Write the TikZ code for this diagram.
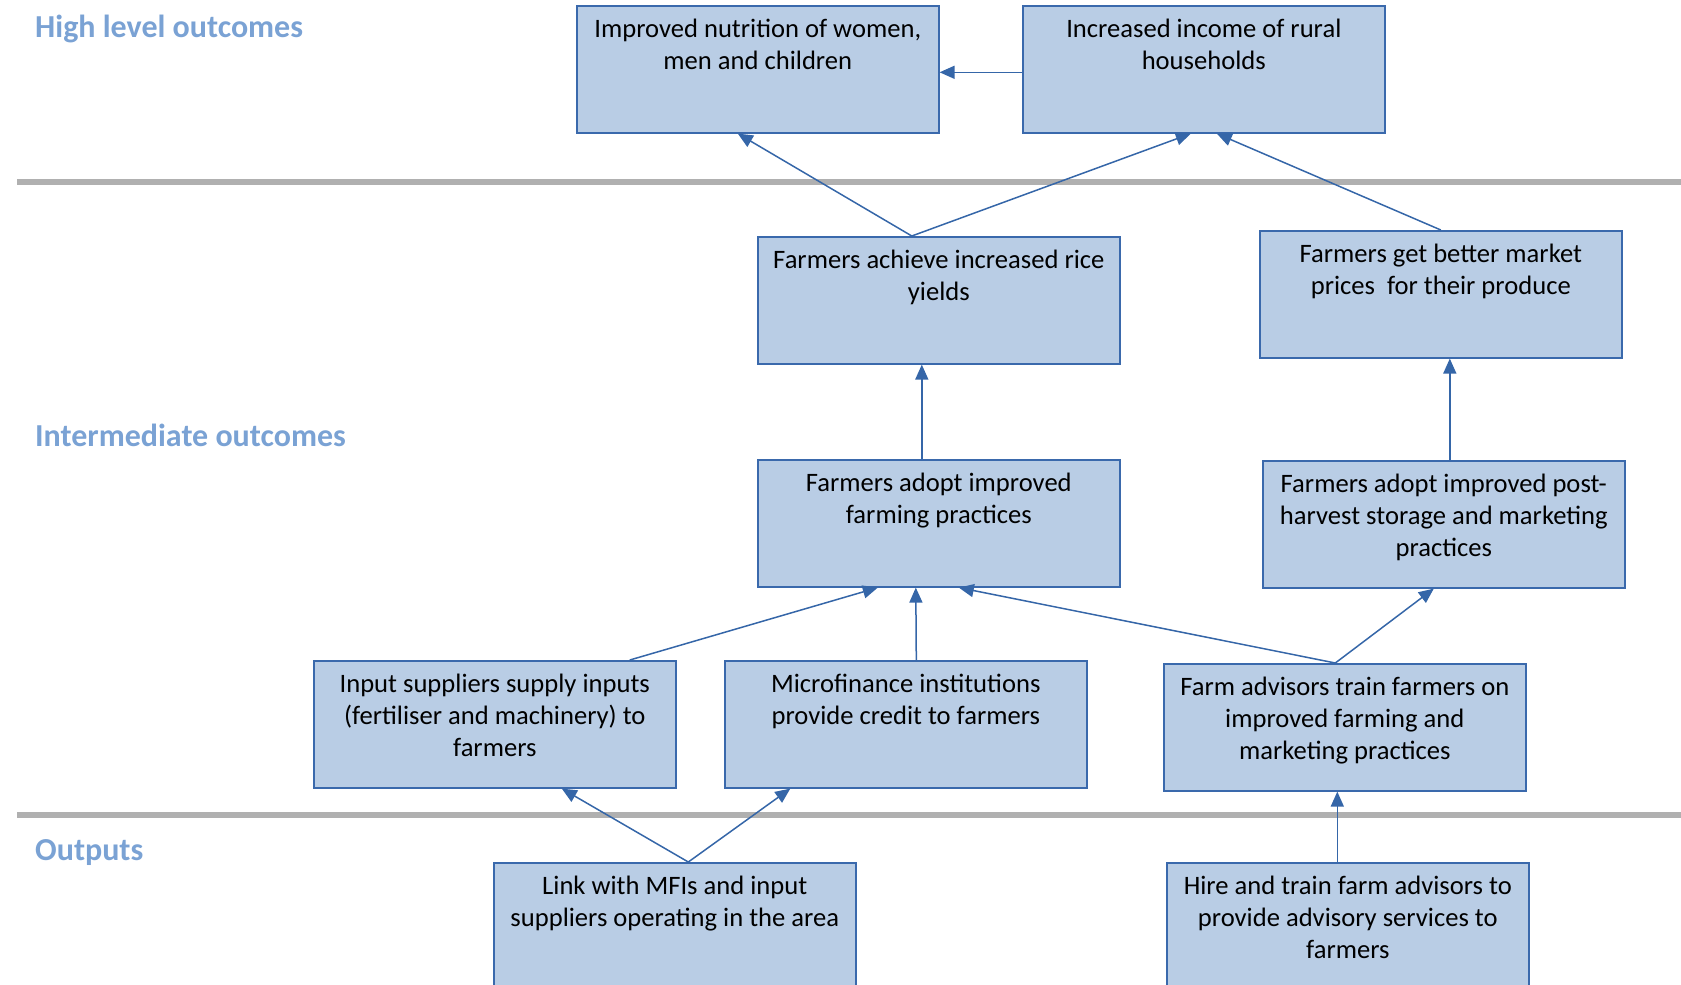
\documentclass[tikz,border=0pt]{standalone}
\usepackage{fontspec}
\setmainfont{Carlito}
\usetikzlibrary{arrows.meta}
\definecolor{boxfill}{HTML}{B9CDE5}
\definecolor{boxline}{HTML}{3A69AC}
\definecolor{arrowcol}{HTML}{3566A8}
\definecolor{headcol}{HTML}{7AA2D4}
\definecolor{sepcol}{HTML}{B0B0B0}
\newcommand\bt[2][127]{\parbox[c][#1pt][t]{356pt}{\centering\vspace*{9pt}\strut #2\par}}
\tikzset{
  boxnode/.style={draw=boxline, fill=boxfill, line width=1.6pt, inner sep=0pt,
    minimum width=362pt, anchor=north west, font=\fontsize{26.6}{32}\selectfont},
  heading/.style={anchor=west, inner sep=0pt, text=headcol, font=\fontsize{32}{38}\selectfont\bfseries},
  link/.style={draw=arrowcol, line width=1.5pt, -{Triangle[length=15pt,width=13pt]}},
  sepline/.style={draw=sepcol, line width=6pt}
}
\begin{document}
\begin{tikzpicture}[x=1pt,y=-1pt]
\useasboundingbox (0,0) rectangle (1681,985);
% separators
\coordinate (s1a) at (17,182);
\coordinate (s1b) at (1681,182);
\coordinate (s2a) at (17,815);
\coordinate (s2b) at (1681,815);
\draw[sepline] (s1a) -- (s1b);
\draw[sepline] (s2a) -- (s2b);
% headings
\node[heading] (h1) at (35,29) {High level outcomes};
\node[heading] (h2) at (35,435) {Intermediate outcomes};
\node[heading] (h3) at (35,853) {Outputs};
% boxes
\node[boxnode] (nut) at (576,5) {\bt{Improved nutrition of women,\\ men and children}};
\node[boxnode] (inc) at (1022,5) {\bt{Increased income of rural\\ households}};
\node[boxnode] (rice) at (757,236) {\bt{Farmers achieve increased rice\\ yields}};
\node[boxnode] (mkt) at (1259,230) {\bt{Farmers get better market\\ prices\ \ for their produce}};
\node[boxnode] (adopt) at (757,459) {\bt{Farmers adopt improved\\ farming practices}};
\node[boxnode] (post) at (1262,460) {\bt{Farmers adopt improved post-\\ harvest storage and marketing\\ practices}};
\node[boxnode] (inp) at (313,660) {\bt{Input suppliers supply inputs\\ (fertiliser and machinery) to\\ farmers}};
\node[boxnode] (mfi) at (724,660) {\bt{Microfinance institutions\\ provide credit to farmers}};
\node[boxnode] (adv) at (1163,663) {\bt{Farm advisors train farmers on\\ improved farming and\\ marketing practices}};
\node[boxnode] (lnk) at (493,862) {\bt[135]{Link with MFIs and input\\ suppliers operating in the area}};
\node[boxnode] (hire) at (1166,862) {\bt[135]{Hire and train farm advisors to\\ provide advisory services to\\ farmers}};
% connectors
\draw[link] ([yshift=-3pt]inc.west) -- ([yshift=-3pt]nut.east);
\draw[link] ([xshift=-27pt]rice.north) -- ([xshift=-20pt]nut.south);
\draw[link] ([xshift=-27pt]rice.north) -- ([xshift=-13pt]inc.south);
\draw[link] (mkt.north) -- ([xshift=13pt]inc.south);
\draw[link] ([xshift=-17pt]adopt.north) -- ([xshift=-17pt]rice.south);
\draw[link] ([xshift=6pt]post.north) -- ([xshift=9pt]mkt.south);
\draw[link] ([xshift=135pt]inp.north) -- ([xshift=-61pt]adopt.south);
\draw[link] ([xshift=10.5pt]mfi.north) -- ([xshift=-23pt]adopt.south);
\draw[link] ([xshift=-9.5pt]adv.north) -- ([xshift=20pt]adopt.south);
\draw[link] ([xshift=-9.5pt]adv.north) -- ([xshift=-10pt]post.south);
\draw[link] ([xshift=13.5pt]lnk.north) -- ([xshift=67pt]inp.south);
\draw[link] ([xshift=13.5pt]lnk.north) -- ([xshift=-115.5pt]mfi.south);
\draw[link] ([xshift=-10.5pt]hire.north) -- ([xshift=-7.5pt]adv.south);
\end{tikzpicture}
\end{document}
